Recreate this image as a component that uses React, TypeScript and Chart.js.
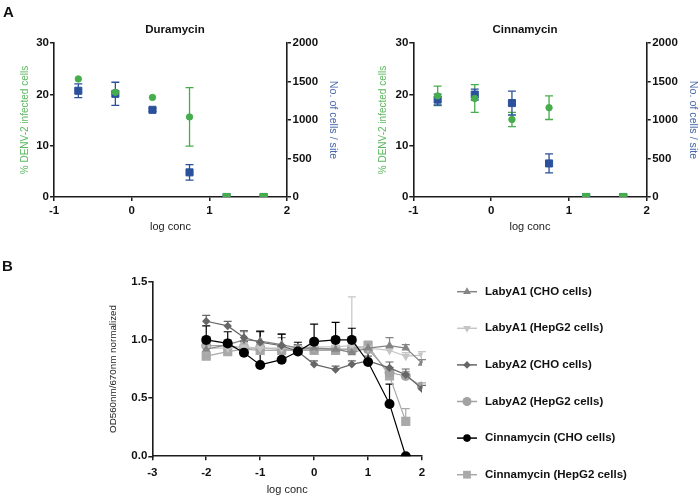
import React, { useEffect, useRef } from 'react';
import { Chart, registerables } from 'chart.js';
Chart.register(...registerables);

// ---------- Panel A data ----------
const aDoses = [-0.687, -0.21, 0.268, 0.745, 1.222, 1.699];
const duraInfected = [23.0, 20.4, 19.4, 15.6, 0, 0];
const duraInfectedErr = [0, 0, 0, 5.7, 0, 0];
const duraCells = [1380, 1340, 1132, 320, 0, 0];
const duraCellsErr = [90, 150, 20, 100, 0, 0];
const cinnInfected = [19.7, 19.2, 15.1, 17.4, 0, 0];
const cinnInfectedErr = [1.9, 2.7, 1.4, 2.3, 0, 0];
const cinnCells = [1265, 1330, 1220, 436, 0, 0];
const cinnCellsErr = [70, 70, 155, 123, 0, 0];
const aInfectedTicks = [0, 10, 20, 30];
const aCellTicks = [0, 500, 1000, 1500, 2000];

// ---------- Panel B data ----------
const bDoses = [-2, -1.602, -1.301, -1, -0.602, -0.301, 0, 0.398, 0.699, 1, 1.398, 1.699, 2];
const labyA1Cho = [0.92, 0.96, 1.0, 0.99, 0.96, 0.93, 0.93, 0.92, 0.89, 0.93, 0.95, 0.93, 0.8];
const labyA1ChoErr = [0.04, 0.04, 0.07, 0.08, 0.06, 0.03, 0.03, 0.03, 0.05, 0.04, 0.07, 0.03, 0.03];
const labyA1Hep = [0.93, 0.93, 0.94, 0.93, 0.93, 0.93, 0.94, 0.94, 0.95, 0.93, 0.91, 0.86, 0.87];
const labyA1HepErr = [0.03, 0.03, 0.03, 0.03, 0.03, 0.03, 0.03, 0.03, 0.42, 0.03, 0.03, 0.03, 0.03];
const labyA2Cho = [1.16, 1.12, 1.02, 0.98, 0.95, 0.9, 0.79, 0.745, 0.79, 0.82, 0.76, 0.7, 0.58];
const labyA2ChoErr = [0.05, 0.04, 0.06, 0.09, 0.1, 0.06, 0.03, 0.03, 0.03, 0.04, 0.05, 0.05, 0.03];
const labyA2Hep = [0.95, 0.95, 0.93, 0.93, 0.92, 0.92, 0.92, 0.92, 0.92, 0.92, 0.72, 0.69, 0.6];
const labyA2HepErr = [0.03, 0.03, 0.03, 0.03, 0.03, 0.03, 0.03, 0.03, 0.03, 0.03, 0.04, 0.04, 0.03];
const cinnCho = [1.0, 0.97, 0.89, 0.785, 0.83, 0.9, 0.985, 1.0, 1.0, 0.81, 0.45, 0.0];
const cinnChoErr = [0.12, 0.1, 0.1, 0.29, 0.22, 0.08, 0.15, 0.15, 0.1, 0.09, 0.17, 0];
const cinnHep = [0.86, 0.9, 0.92, 0.91, 0.91, 0.91, 0.91, 0.91, 0.92, 0.95, 0.69, 0.3];
const cinnHepErr = [0.03, 0.04, 0.04, 0.04, 0.04, 0.03, 0.03, 0.03, 0.03, 0.04, 0.07, 0.11];
const bLabels = [
  'LabyA1 (CHO cells)',
  'LabyA1 (HepG2 cells)',
  'LabyA2 (CHO cells)',
  'LabyA2 (HepG2 cells)',
  'Cinnamycin (CHO cells)',
  'Cinnamycin (HepG2 cells)',
];

// ---------- styles ----------
const SANS = "'Liberation Sans', Arial, Helvetica, sans-serif";
const AXIS = '#1c1c1c';
const GREEN = '#46ad4c';
const BLUE = '#2b509c';
const GREEN_TXT = '#5cb85f';
const BLUE_TXT = '#4866ad';

const errorBars = {
  id: 'errorBars',
  beforeDatasetsDraw(chart: any) {
    const ctx = chart.ctx;
    chart.data.datasets.forEach((ds: any, di: number) => {
      const meta = chart.getDatasetMeta(di);
      const up = ds.errPlus, down = ds.errMinus;
      if (!up && !down) return;
      const xs = meta.xScale, ys = meta.yScale;
      ctx.save();
      ctx.strokeStyle = ds.errColor || ds.borderColor;
      ctx.lineWidth = ds.errWidth || 1;
      const cap = ds.capHalf || 4;
      ds.data.forEach((p: any, i: number) => {
        if (!p || p.y == null) return;
        const u = up ? up[i] || 0 : 0;
        const d = down ? down[i] || 0 : 0;
        if (!u && !d) return;
        const x = xs.getPixelForValue(p.x);
        const yT = ys.getPixelForValue(p.y + u);
        const yB = ys.getPixelForValue(p.y - d);
        ctx.beginPath();
        ctx.moveTo(x, yT);
        ctx.lineTo(x, yB);
        if (u) { ctx.moveTo(x - cap, yT); ctx.lineTo(x + cap, yT); }
        if (d) { ctx.moveTo(x - cap, yB); ctx.lineTo(x + cap, yB); }
        ctx.stroke();
      });
      ctx.restore();
    });
  },
};

function drawMarker(ctx: CanvasRenderingContext2D, style: string, rot: number, x: number, y: number, r: number) {
  ctx.save();
  ctx.translate(x, y);
  ctx.rotate((rot * Math.PI) / 180);
  ctx.beginPath();
  if (style === 'circle') {
    ctx.arc(0, 0, r, 0, Math.PI * 2);
  } else if (style === 'rect') {
    const s = r * Math.SQRT1_2;
    ctx.rect(-s, -s, 2 * s, 2 * s);
  } else if (style === 'rectRot') {
    ctx.moveTo(0, -r); ctx.lineTo(r, 0); ctx.lineTo(0, r); ctx.lineTo(-r, 0); ctx.closePath();
  } else if (style === 'triangle') {
    ctx.moveTo(0, -r); ctx.lineTo(r * 0.866, r * 0.5); ctx.lineTo(-r * 0.866, r * 0.5); ctx.closePath();
  }
  ctx.fill();
  ctx.restore();
}

const sideLegend = {
  id: 'sideLegend',
  afterDraw(chart: any, _a: any, opts: any) {
    if (!opts || !opts.display) return;
    const ctx = chart.ctx;
    ctx.save();
    chart.data.datasets.forEach((ds: any, i: number) => {
      const y = opts.top + i * opts.spacing;
      ctx.strokeStyle = ds.borderColor;
      ctx.fillStyle = ds.borderColor;
      ctx.lineWidth = 1.5;
      ctx.beginPath();
      ctx.moveTo(opts.x0, y);
      ctx.lineTo(opts.x1, y);
      ctx.stroke();
      drawMarker(ctx, ds.pointStyle, ds.pointRotation || 0, (opts.x0 + opts.x1) / 2, y, ds.legendR || 4);
      ctx.fillStyle = '#111';
      ctx.font = `bold ${opts.fontSize}px ${SANS}`;
      ctx.textBaseline = 'middle';
      ctx.textAlign = 'left';
      ctx.fillText(ds.label, opts.textX, y);
    });
    ctx.restore();
  },
};

const tickFont = { family: SANS, size: 11.5, weight: 'bold' as const };
const plainNum = (v: any) => String(v);

function panelAConfig(title: string, inf: number[], infErr: number[], cells: number[], cellsErr: number[], g: any) {
  return {
    type: 'scatter' as const,
    data: {
      datasets: [
        {
          label: '% DENV-2 infected cells',
          data: aDoses.map((x, i) => ({ x, y: inf[i] })),
          yAxisID: 'y',
          backgroundColor: GREEN,
          borderColor: GREEN,
          pointStyle: aDoses.map((_, i) => (inf[i] === 0 ? 'rect' : 'circle')),
          pointRadius: aDoses.map((_, i) => (inf[i] === 0 ? 5 : 3.2)),
          errPlus: infErr,
          errMinus: infErr,
          errWidth: 1.3,
          capHalf: 4,
          order: 0,
        },
        {
          label: 'No. of cells / site',
          data: aDoses.map((x, i) => ({ x, y: cells[i] })),
          yAxisID: 'y1',
          backgroundColor: BLUE,
          borderColor: BLUE,
          pointStyle: 'rect',
          pointRadius: 5,
          errPlus: cellsErr,
          errMinus: cellsErr,
          errWidth: 1.3,
          capHalf: 4,
          order: 1,
        },
      ],
    },
    options: {
      responsive: false,
      animation: false as const,
      layout: { padding: 0 },
      plugins: {
        legend: { display: false },
        tooltip: { enabled: false },
        title: {
          display: true,
          text: title,
          color: '#111',
          font: { family: SANS, size: 11.5, weight: 'bold' as const },
          padding: { top: 22.5, bottom: 6.7 },
        },
      },
      scales: {
        x: {
          type: 'linear' as const,
          min: -1,
          max: 2,
          ticks: { stepSize: 1, font: tickFont, color: '#111', padding: 2.5 },
          grid: { drawOnChartArea: false, tickLength: 4, color: AXIS, lineWidth: 1.5 },
          border: { color: AXIS, width: 1.6 },
          title: { display: true, text: 'log conc', color: '#222', font: { family: SANS, size: 11 }, padding: { top: 0, bottom: 6.4 } },
          afterFit: (s: any) => { s.height = 43; },
        },
        y: {
          position: 'left' as const,
          min: 0,
          max: 30,
          afterBuildTicks: (s: any) => { s.ticks = aInfectedTicks.map((v) => ({ value: v })); },
          ticks: { font: tickFont, color: '#111', padding: 1, callback: plainNum },
          grid: { drawOnChartArea: false, tickLength: 4, color: AXIS, lineWidth: 1.5 },
          border: { color: AXIS, width: 1.6 },
          title: { display: true, text: '% DENV-2 infected cells', color: GREEN_TXT, font: { family: SANS, size: 10 }, padding: { top: g.lt, bottom: 0 } },
          afterFit: (s: any) => { s.width = g.lw; },
        },
        y1: {
          position: 'right' as const,
          min: 0,
          max: 2000,
          afterBuildTicks: (s: any) => { s.ticks = aCellTicks.map((v) => ({ value: v })); },
          ticks: { font: tickFont, color: '#111', padding: 1.5, callback: plainNum },
          grid: { drawOnChartArea: false, tickLength: 4, color: AXIS, lineWidth: 1.5 },
          border: { color: AXIS, width: 1.6 },
          title: { display: true, text: 'No. of cells / site', color: BLUE_TXT, font: { family: SANS, size: 10.7 }, padding: { top: g.rt, bottom: 0 } },
          afterFit: (s: any) => { s.width = g.rw; },
        },
      },
    },
    plugins: [errorBars],
  };
}

function bSeries(label: string, ys: number[], err: number[], color: string, style: string, radius: number, rot: number, order: number, legendR: number) {
  const data = ys.map((y, i) => ({ x: bDoses[i], y }));
  return {
    label,
    data,
    showLine: true,
    borderColor: color,
    backgroundColor: color,
    pointBackgroundColor: color,
    pointBorderColor: color,
    borderWidth: 1.2,
    pointStyle: style,
    pointRotation: rot,
    pointRadius: radius,
    pointBorderWidth: 0,
    errPlus: err,
    errWidth: 1.2,
    capHalf: 4,
    order,
    legendR,
  };
}

function panelBConfig() {
  return {
    type: 'scatter' as const,
    data: {
      datasets: [
        bSeries(bLabels[0], labyA1Cho, labyA1ChoErr, '#848484', 'triangle', 5, 0, 2, 4.5),
        bSeries(bLabels[1], labyA1Hep, labyA1HepErr, '#c6c6c6', 'triangle', 5, 180, 3, 4.5),
        bSeries(bLabels[2], labyA2Cho, labyA2ChoErr, '#666666', 'rectRot', 4.2, 0, 1, 3.8),
        bSeries(bLabels[3], labyA2Hep, labyA2HepErr, '#a2a2a2', 'circle', 5, 0, 4, 4.5),
        bSeries(bLabels[4], cinnCho, cinnChoErr, '#000000', 'circle', 5, 0, 0, 3.8),
        bSeries(bLabels[5], cinnHep, cinnHepErr, '#a9a9a9', 'rect', 6.5, 0, 5, 5.5),
      ],
    },
    options: {
      responsive: false,
      animation: false as const,
      layout: { padding: { left: 90, right: 278, top: 31.7, bottom: 0 } },
      plugins: {
        legend: { display: false },
        tooltip: { enabled: false },
        sideLegend: { display: true, x0: 457, x1: 477, textX: 485, top: 41.7, spacing: 36.6, fontSize: 11.5 },
      },
      scales: {
        x: {
          type: 'linear' as const,
          min: -3,
          max: 2,
          ticks: { stepSize: 1, font: tickFont, color: '#111', padding: 6 },
          grid: { drawOnChartArea: false, tickLength: 4, color: AXIS, lineWidth: 1.5 },
          border: { color: AXIS, width: 1.6 },
          title: { display: true, text: 'log conc', color: '#222', font: { family: SANS, size: 11 }, padding: { top: 0, bottom: 2.4 } },
          afterFit: (s: any) => { s.height = 42.7; },
        },
        y: {
          min: 0,
          max: 1.5,
          ticks: { stepSize: 0.5, font: tickFont, color: '#111', padding: 1, callback: (v: any) => Number(v).toFixed(1) },
          grid: { drawOnChartArea: false, tickLength: 4, color: AXIS, lineWidth: 1.5 },
          border: { color: AXIS, width: 1.6 },
          title: { display: true, text: 'OD560nm/670nm normalized', color: '#222', font: { family: SANS, size: 9.8 }, padding: { top: 17.1, bottom: 0 } },
          afterFit: (s: any) => { s.width = 62.3; },
        },
      },
    },
    plugins: [errorBars, sideLegend],
  };
}

export default function App() {
  const c1 = useRef<HTMLCanvasElement>(null);
  const c2 = useRef<HTMLCanvasElement>(null);
  const c3 = useRef<HTMLCanvasElement>(null);

  useEffect(() => {
    const charts: Chart[] = [];
    if (c1.current) {
      charts.push(new Chart(c1.current, panelAConfig('Duramycin', duraInfected, duraInfectedErr, duraCells, duraCellsErr, { lw: 54, lt: 19, rw: 63, rt: 10.6 }) as any));
    }
    if (c2.current) {
      charts.push(new Chart(c2.current, panelAConfig('Cinnamycin', cinnInfected, cinnInfectedErr, cinnCells, cinnCellsErr, { lw: 63.3, lt: 27, rw: 53.3, rt: 0.6 }) as any));
    }
    if (c3.current) {
      charts.push(new Chart(c3.current, panelBConfig() as any));
    }
    return () => charts.forEach((c) => c.destroy());
  }, []);

  const letter: React.CSSProperties = {
    position: 'absolute',
    fontFamily: SANS,
    fontWeight: 'bold',
    fontSize: 15,
    lineHeight: '15px',
    color: '#111',
  };

  return (
    <div style={{ position: 'absolute', left: 0, top: 0, width: 700, height: 499, background: '#fff', overflow: 'hidden' }}>
      <canvas ref={c1} width={350} height={240} style={{ position: 'absolute', left: 0, top: 0, width: 350, height: 240 }} />
      <canvas ref={c2} width={350} height={240} style={{ position: 'absolute', left: 350, top: 0, width: 350, height: 240 }} />
      <canvas ref={c3} width={700} height={249} style={{ position: 'absolute', left: 0, top: 250, width: 700, height: 249 }} />
      <div style={{ ...letter, left: 3, top: 4 }}>A</div>
      <div style={{ ...letter, left: 2, top: 258 }}>B</div>
    </div>
  );
}
